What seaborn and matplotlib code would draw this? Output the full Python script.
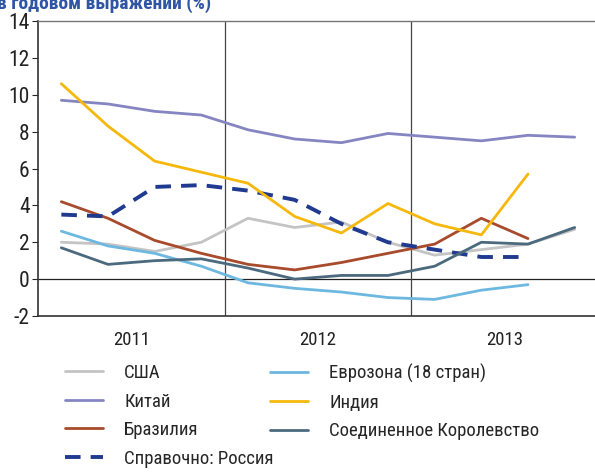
import matplotlib
matplotlib.use('Agg')
import matplotlib.pyplot as plt
import seaborn as sns
import pandas as pd
from matplotlib.lines import Line2D

# данные по кварталам 2011-2013 (%)
quarters = ['2011Q1', '2011Q2', '2011Q3', '2011Q4',
            '2012Q1', '2012Q2', '2012Q3', '2012Q4',
            '2013Q1', '2013Q2', '2013Q3', '2013Q4']
years = ['2011', '2012', '2013']

usa = [2.0, 1.9, 1.5, 2.0, 3.3, 2.8, 3.1, 2.0, 1.3, 1.6, 1.9, 2.7]
china = [9.7, 9.5, 9.1, 8.9, 8.1, 7.6, 7.4, 7.9, 7.7, 7.5, 7.8, 7.7]
brazil = [4.2, 3.3, 2.1, 1.4, 0.8, 0.5, 0.9, 1.4, 1.9, 3.3, 2.2, None]
russia = [3.5, 3.4, 5.0, 5.1, 4.8, 4.3, 3.0, 2.0, 1.6, 1.2, 1.2, None]
eurozone = [2.6, 1.8, 1.4, 0.7, -0.2, -0.5, -0.7, -1.0, -1.1, -0.6, -0.3, None]
india = [10.6, 8.3, 6.4, 5.8, 5.2, 3.4, 2.5, 4.1, 3.0, 2.4, 5.7, None]
uk = [1.7, 0.8, 1.0, 1.1, 0.6, 0.0, 0.2, 0.2, 0.7, 2.0, 1.9, 2.8]

series = [
    ('США', usa, '#c4c4c4', '-'),
    ('Китай', china, '#8585c2', '-'),
    ('Бразилия', brazil, '#a84a2c', '-'),
    ('Справочно: Россия', russia, '#1f3a8f', '--'),
    ('Еврозона (18 стран)', eurozone, '#6cb8e0', '-'),
    ('Индия', india, '#f6b80c', '-'),
    ('Соединенное Королевство', uk, '#4b6a7e', '-'),
]

sns.set_style('white')
fonts = ['Roboto Condensed', 'PT Sans Narrow', 'DejaVu Sans']
plt.rcParams['font.family'] = fonts

fig = plt.figure(figsize=(5.95, 4.73), dpi=100)
ax = fig.add_axes([38 / 595, 1 - 316 / 473, 560 / 595, 295 / 473])

xpos = [i + 0.5 for i in range(len(quarters))]
dash = [4, 2.6]
handles = []
for name, vals, color, ls in series:
    d = pd.DataFrame({'x': xpos, 'y': vals}).dropna()
    sns.lineplot(data=d, x='x', y='y', ax=ax, color=color,
                 linewidth=2.8 if ls == '--' else 2.0, legend=False)
    line = ax.lines[-1]
    if ls == '--':
        line.set_dashes(dash)
    h = Line2D([], [], color=color, linewidth=line.get_linewidth())
    if ls == '--':
        h.set_dashes(dash)
    handles.append(h)

ax.axhline(0, color='#222222', linewidth=0.9, zorder=0)
ax.axvline(4, color='#444444', linewidth=0.9, zorder=0)
ax.axvline(8, color='#444444', linewidth=0.9, zorder=0)

ax.set_xlim(0, 12)
ax.set_ylim(-2, 14)
ax.set_yticks(range(-2, 15, 2))
ax.set_yticklabels([str(v) for v in range(-2, 15, 2)], fontsize=15.5, color='#222222')
ax.set_xticks([2, 6, 10])
ax.set_xticklabels(years, fontsize=13.5, color='#222222')
ax.tick_params(axis='x', length=0, pad=11)
ax.tick_params(axis='y', length=4, width=0.8, direction='out', pad=2, left=True)
ax.set_xlabel('')
ax.set_ylabel('')

for side in ['left', 'bottom']:
    ax.spines[side].set_color('#333333')
    ax.spines[side].set_linewidth(1.2)
ax.spines['top'].set_color('#777777')
ax.spines['top'].set_linewidth(1.0)
ax.spines['right'].set_visible(False)

# обрезанный заголовок сверху
fig.text(-0.005, 1 - 9 / 473, 'в годовом выражении (%)', fontsize=14,
         fontweight='bold', color='#2f55a4', va='baseline', ha='left')

leg_kw = dict(frameon=False, fontsize=13.5, handlelength=2.0, handletextpad=1.15,
              labelspacing=0.56, borderpad=0, borderaxespad=0, loc='upper left')
fig.legend(handles[:4], [s[0] for s in series[:4]],
           bbox_to_anchor=(65 / 595, 1 - 364 / 473), **leg_kw)
fig.legend(handles[4:], [s[0] for s in series[4:]],
           bbox_to_anchor=(270 / 595, 1 - 364 / 473), **leg_kw)

fig.savefig('out.png', dpi=100)
